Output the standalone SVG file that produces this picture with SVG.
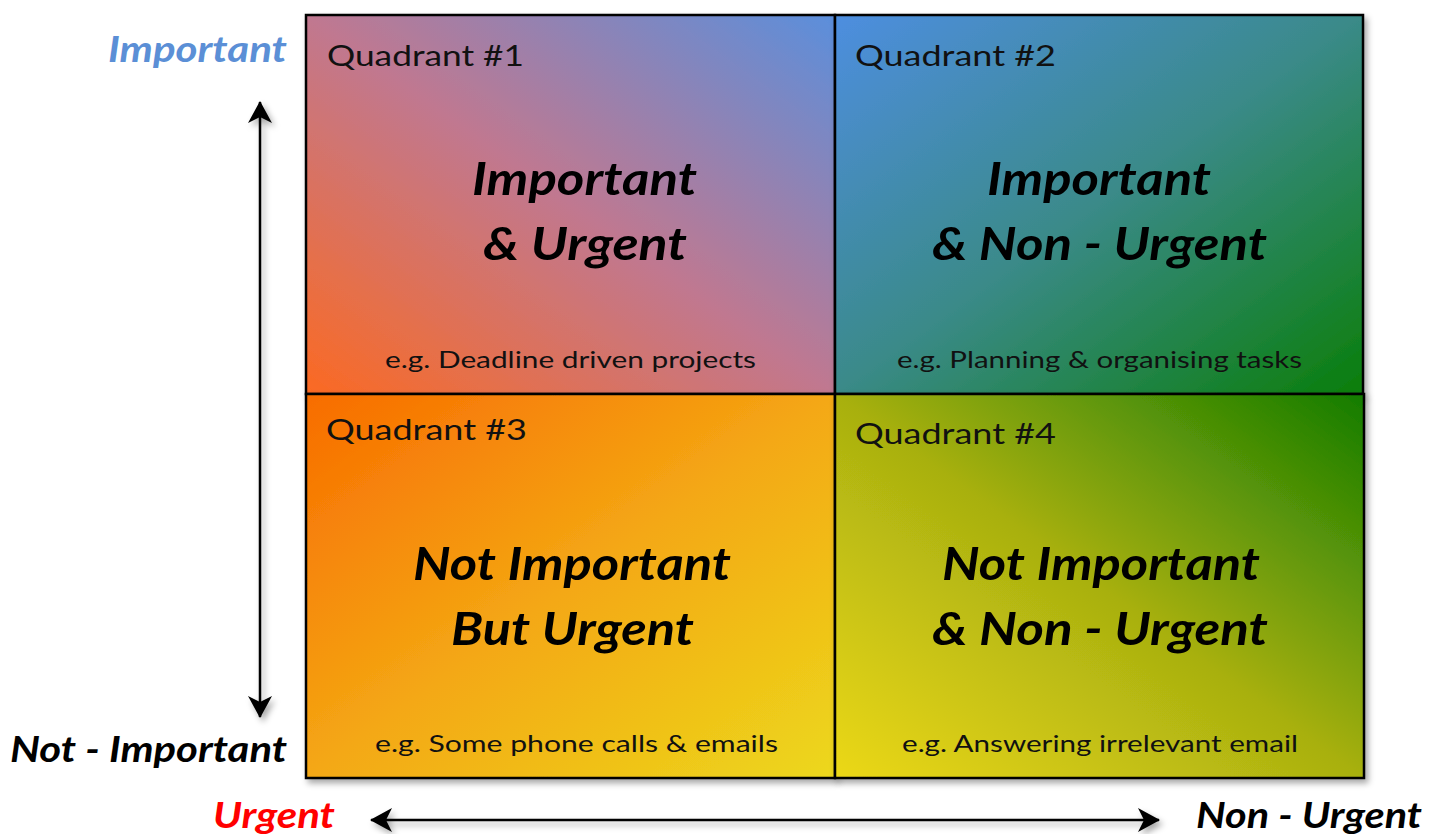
<svg xmlns="http://www.w3.org/2000/svg" width="1441" height="834" viewBox="0 0 1441 834">
  <defs>
    <linearGradient id="g1" x1="0" y1="1" x2="1" y2="0">
      <stop offset="0" stop-color="#fb6a22"/>
      <stop offset="0.5" stop-color="#c07890"/>
      <stop offset="1" stop-color="#5a8fdc"/>
    </linearGradient>
    <linearGradient id="g2" x1="0" y1="0" x2="1" y2="1">
      <stop offset="0" stop-color="#4e8ee0"/>
      <stop offset="0.5" stop-color="#3a8a88"/>
      <stop offset="1" stop-color="#0a7e0a"/>
    </linearGradient>
    <linearGradient id="g3" x1="0" y1="0" x2="1" y2="1">
      <stop offset="0" stop-color="#f86c00"/>
      <stop offset="0.5" stop-color="#f4a814"/>
      <stop offset="1" stop-color="#ecd81c"/>
    </linearGradient>
    <linearGradient id="g4" x1="0" y1="1" x2="1" y2="0">
      <stop offset="0" stop-color="#ecd818"/>
      <stop offset="0.5" stop-color="#a8b010"/>
      <stop offset="1" stop-color="#137c00"/>
    </linearGradient>
    <filter id="shadow" x="-10%" y="-10%" width="120%" height="120%">
      <feDropShadow dx="3" dy="4" stdDeviation="3" flood-color="#000" flood-opacity="0.35"/>
    </filter>
    <marker id="arrow" viewBox="0 0 22 24" refX="21" refY="12" markerWidth="22" markerHeight="24" markerUnits="userSpaceOnUse" orient="auto-start-reverse">
      <path d="M0,0 L22,12 L0,24 L6,12 Z" fill="#000"/>
    </marker>
  </defs>
  <style>
    .box { stroke: #000; stroke-width: 2.5; }
    .quad { font-family: Lato, "Liberation Sans", sans-serif; font-size: 28px; fill: #111; }
    .ex { font-family: Lato, "Liberation Sans", sans-serif; font-size: 24px; fill: #111; }
    .big { font-family: Lato, "Liberation Sans", sans-serif; font-size: 46px; font-weight: bold; font-style: italic; fill: #000; }
    .axis { font-family: Lato, "Liberation Sans", sans-serif; font-size: 36px; font-weight: bold; font-style: italic; }
    .conn { stroke: #000; stroke-width: 2.5; fill: none; }
  </style>

  <!-- axis arrows -->
  <g id="connectors" filter="url(#shadow)">
    <line class="conn" x1="260" y1="102" x2="260" y2="717" marker-start="url(#arrow)" marker-end="url(#arrow)"/>
    <line class="conn" x1="371" y1="820" x2="1159" y2="820" marker-start="url(#arrow)" marker-end="url(#arrow)"/>
  </g>

  <g id="q1">
    <rect class="box" x="306" y="15" width="529" height="379" fill="url(#g1)" filter="url(#shadow)"/>
    <text class="quad" x="327" y="66" textLength="197" lengthAdjust="spacingAndGlyphs">Quadrant #1</text>
    <text class="big" x="472" y="195" textLength="225" lengthAdjust="spacingAndGlyphs">Important</text>
    <text class="big" x="483" y="260" textLength="204" lengthAdjust="spacingAndGlyphs">&amp; Urgent</text>
    <text class="ex" x="385" y="368" textLength="371" lengthAdjust="spacingAndGlyphs">e.g. Deadline driven projects</text>
  </g>

  <g id="q2">
    <rect class="box" x="835" y="15" width="528" height="379" fill="url(#g2)" filter="url(#shadow)"/>
    <text class="quad" x="855" y="66" textLength="201" lengthAdjust="spacingAndGlyphs">Quadrant #2</text>
    <text class="big" x="987" y="195" textLength="224" lengthAdjust="spacingAndGlyphs">Important</text>
    <text class="big" x="932" y="260" textLength="335" lengthAdjust="spacingAndGlyphs">&amp; Non - Urgent</text>
    <text class="ex" x="897" y="368" textLength="405" lengthAdjust="spacingAndGlyphs">e.g. Planning &amp; organising tasks</text>
  </g>

  <g id="q3">
    <rect class="box" x="306" y="394" width="529" height="384" fill="url(#g3)" filter="url(#shadow)"/>
    <text class="quad" x="326" y="440" textLength="201" lengthAdjust="spacingAndGlyphs">Quadrant #3</text>
    <text class="big" x="413" y="580" textLength="318" lengthAdjust="spacingAndGlyphs">Not Important</text>
    <text class="big" x="451" y="645" textLength="243" lengthAdjust="spacingAndGlyphs">But Urgent</text>
    <text class="ex" x="375" y="752" textLength="403" lengthAdjust="spacingAndGlyphs">e.g. Some phone calls &amp; emails</text>
  </g>

  <g id="q4">
    <rect class="box" x="835" y="394" width="529" height="384" fill="url(#g4)" filter="url(#shadow)"/>
    <text class="quad" x="855" y="444" textLength="201" lengthAdjust="spacingAndGlyphs">Quadrant #4</text>
    <text class="big" x="942" y="580" textLength="318" lengthAdjust="spacingAndGlyphs">Not Important</text>
    <text class="big" x="932" y="645" textLength="336" lengthAdjust="spacingAndGlyphs">&amp; Non - Urgent</text>
    <text class="ex" x="902" y="752" textLength="396" lengthAdjust="spacingAndGlyphs">e.g. Answering irrelevant email</text>
  </g>

  <g id="labels">
    <text class="axis" x="108" y="62" textLength="179" lengthAdjust="spacingAndGlyphs" fill="#5b8fd6">Important</text>
    <text class="axis" x="10" y="762" textLength="277" lengthAdjust="spacingAndGlyphs" fill="#000">Not - Important</text>
    <text class="axis" x="213" y="828" textLength="122" lengthAdjust="spacingAndGlyphs" fill="#ff0000">Urgent</text>
    <text class="axis" x="1196" y="828" textLength="226" lengthAdjust="spacingAndGlyphs" fill="#000">Non - Urgent</text>
  </g>
</svg>
